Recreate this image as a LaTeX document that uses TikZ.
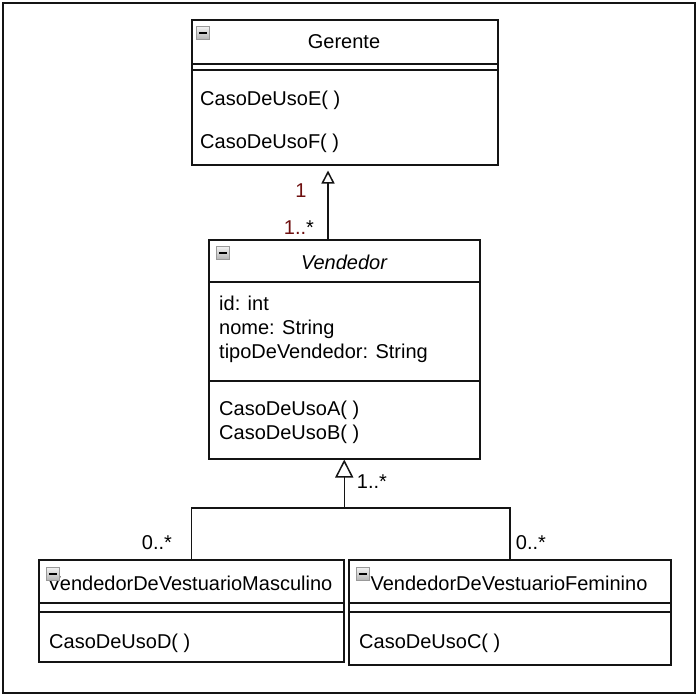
\documentclass[tikz,border=0pt]{standalone}
\usepackage{fontspec}
\setmainfont{Liberation Sans}
\usetikzlibrary{arrows.meta, positioning}
\definecolor{linecol}{RGB}{20,20,20}
\definecolor{multcol}{RGB}{110,15,15}

\begin{document}
\begin{tikzpicture}[x=1pt, y=-1pt,
    font=\fontsize{20}{24}\selectfont,
    umlbox/.style={rectangle, draw=linecol, line width=1.5pt, anchor=north west, inner sep=0pt},
    member/.style={anchor=west, inner sep=0pt, align=left},
    icon/.style={rectangle, draw=gray!80, line width=1pt, top color=gray!10, bottom color=gray!60,
                 minimum size=13pt, inner sep=0pt},
    mult/.style={inner sep=0pt},
    conn/.style={draw=linecol, line width=1.5pt}]

    % Frame
    \fill[white] (0,0) rectangle (698,696);
    \useasboundingbox (0,0) rectangle (698,696);
    \draw[line width=1.5pt, draw=linecol] (3,3) rectangle (695,693);

    % Gerente
    \node[umlbox, minimum width=306pt, minimum height=145pt] (ger) at (191,19) {};
    \draw[conn] (ger.west |- 0,64) -- (ger.east |- 0,64);
    \draw[conn] (ger.west |- 0,70) -- (ger.east |- 0,70);
    \node[icon] (gerI) at (203,33) {\rule{8pt}{2pt}};
    \node (gerT) at (344,42) {Gerente};
    \node[member] (gerE) at (200,100) {CasoDeUsoE( )};
    \node[member] (gerF) at (200,143) {CasoDeUsoF( )};

    % Vendedor
    \node[umlbox, minimum width=271pt, minimum height=219pt] (ven) at (208,239) {};
    \draw[conn] (ven.west |- 0,282) -- (ven.east |- 0,282);
    \draw[conn] (ven.west |- 0,381) -- (ven.east |- 0,381);
    \node[icon] (venI) at (223,253) {\rule{8pt}{2pt}};
    \node (venT) at (344,262) {\itshape Vendedor};
    \node[member] (venA) at (219,329) {id: int\\nome: String\\tipoDeVendedor: String};
    \node[member] (venM) at (219,422) {CasoDeUsoA( )\\CasoDeUsoB( )};

    % Subclasses
    \node[umlbox, minimum width=305pt, minimum height=102pt] (mas) at (38,559) {};
    \draw[conn] (mas.west |- 0,603) -- (mas.east |- 0,603);
    \draw[conn] (mas.west |- 0,612) -- (mas.east |- 0,612);
    \node (masT) at (190,583) {VendedorDeVestuarioMasculino};
    \node[icon] (masI) at (53,574) {\rule{8pt}{2pt}};
    \node[member] (masD) at (49,643) {CasoDeUsoD( )};

    \node[umlbox, minimum width=322pt, minimum height=105pt] (fem) at (348,559) {};
    \draw[conn] (fem.west |- 0,603) -- (fem.east |- 0,603);
    \draw[conn] (fem.west |- 0,612) -- (fem.east |- 0,612);
    \node (femT) at (509,583) {VendedorDeVestuarioFeminino};
    \node[icon] (femI) at (363,574) {\rule{8pt}{2pt}};
    \node[member] (femC) at (359,643) {CasoDeUsoC( )};

    % Arrows
    \draw[conn, -{Triangle[open, length=13pt, width=13pt]}, shorten >=5pt]
        (ven.north -| 328,0) -- (ger.south -| 328,0);
    \coordinate (jn) at (ven.south |- 0,508);
    \draw[conn] (mas.north) |- (jn) -| (fem.north);
    \draw[conn, -{Triangle[open, length=18pt, width=18pt]}] (jn) -- (ven.south);

    % Multiplicities
    \node[mult, text=multcol] (m1) at (301,191) {1};
    \node[mult] (m2) at (299,228) {\textcolor{multcol}{1..}*};
    \node[mult] (m3) at (372,482) {1..*};
    \node[mult] (m4) at (157,543) {0..*};
    \node[mult] (m5) at (531,543) {0..*};
\end{tikzpicture}
\end{document}
